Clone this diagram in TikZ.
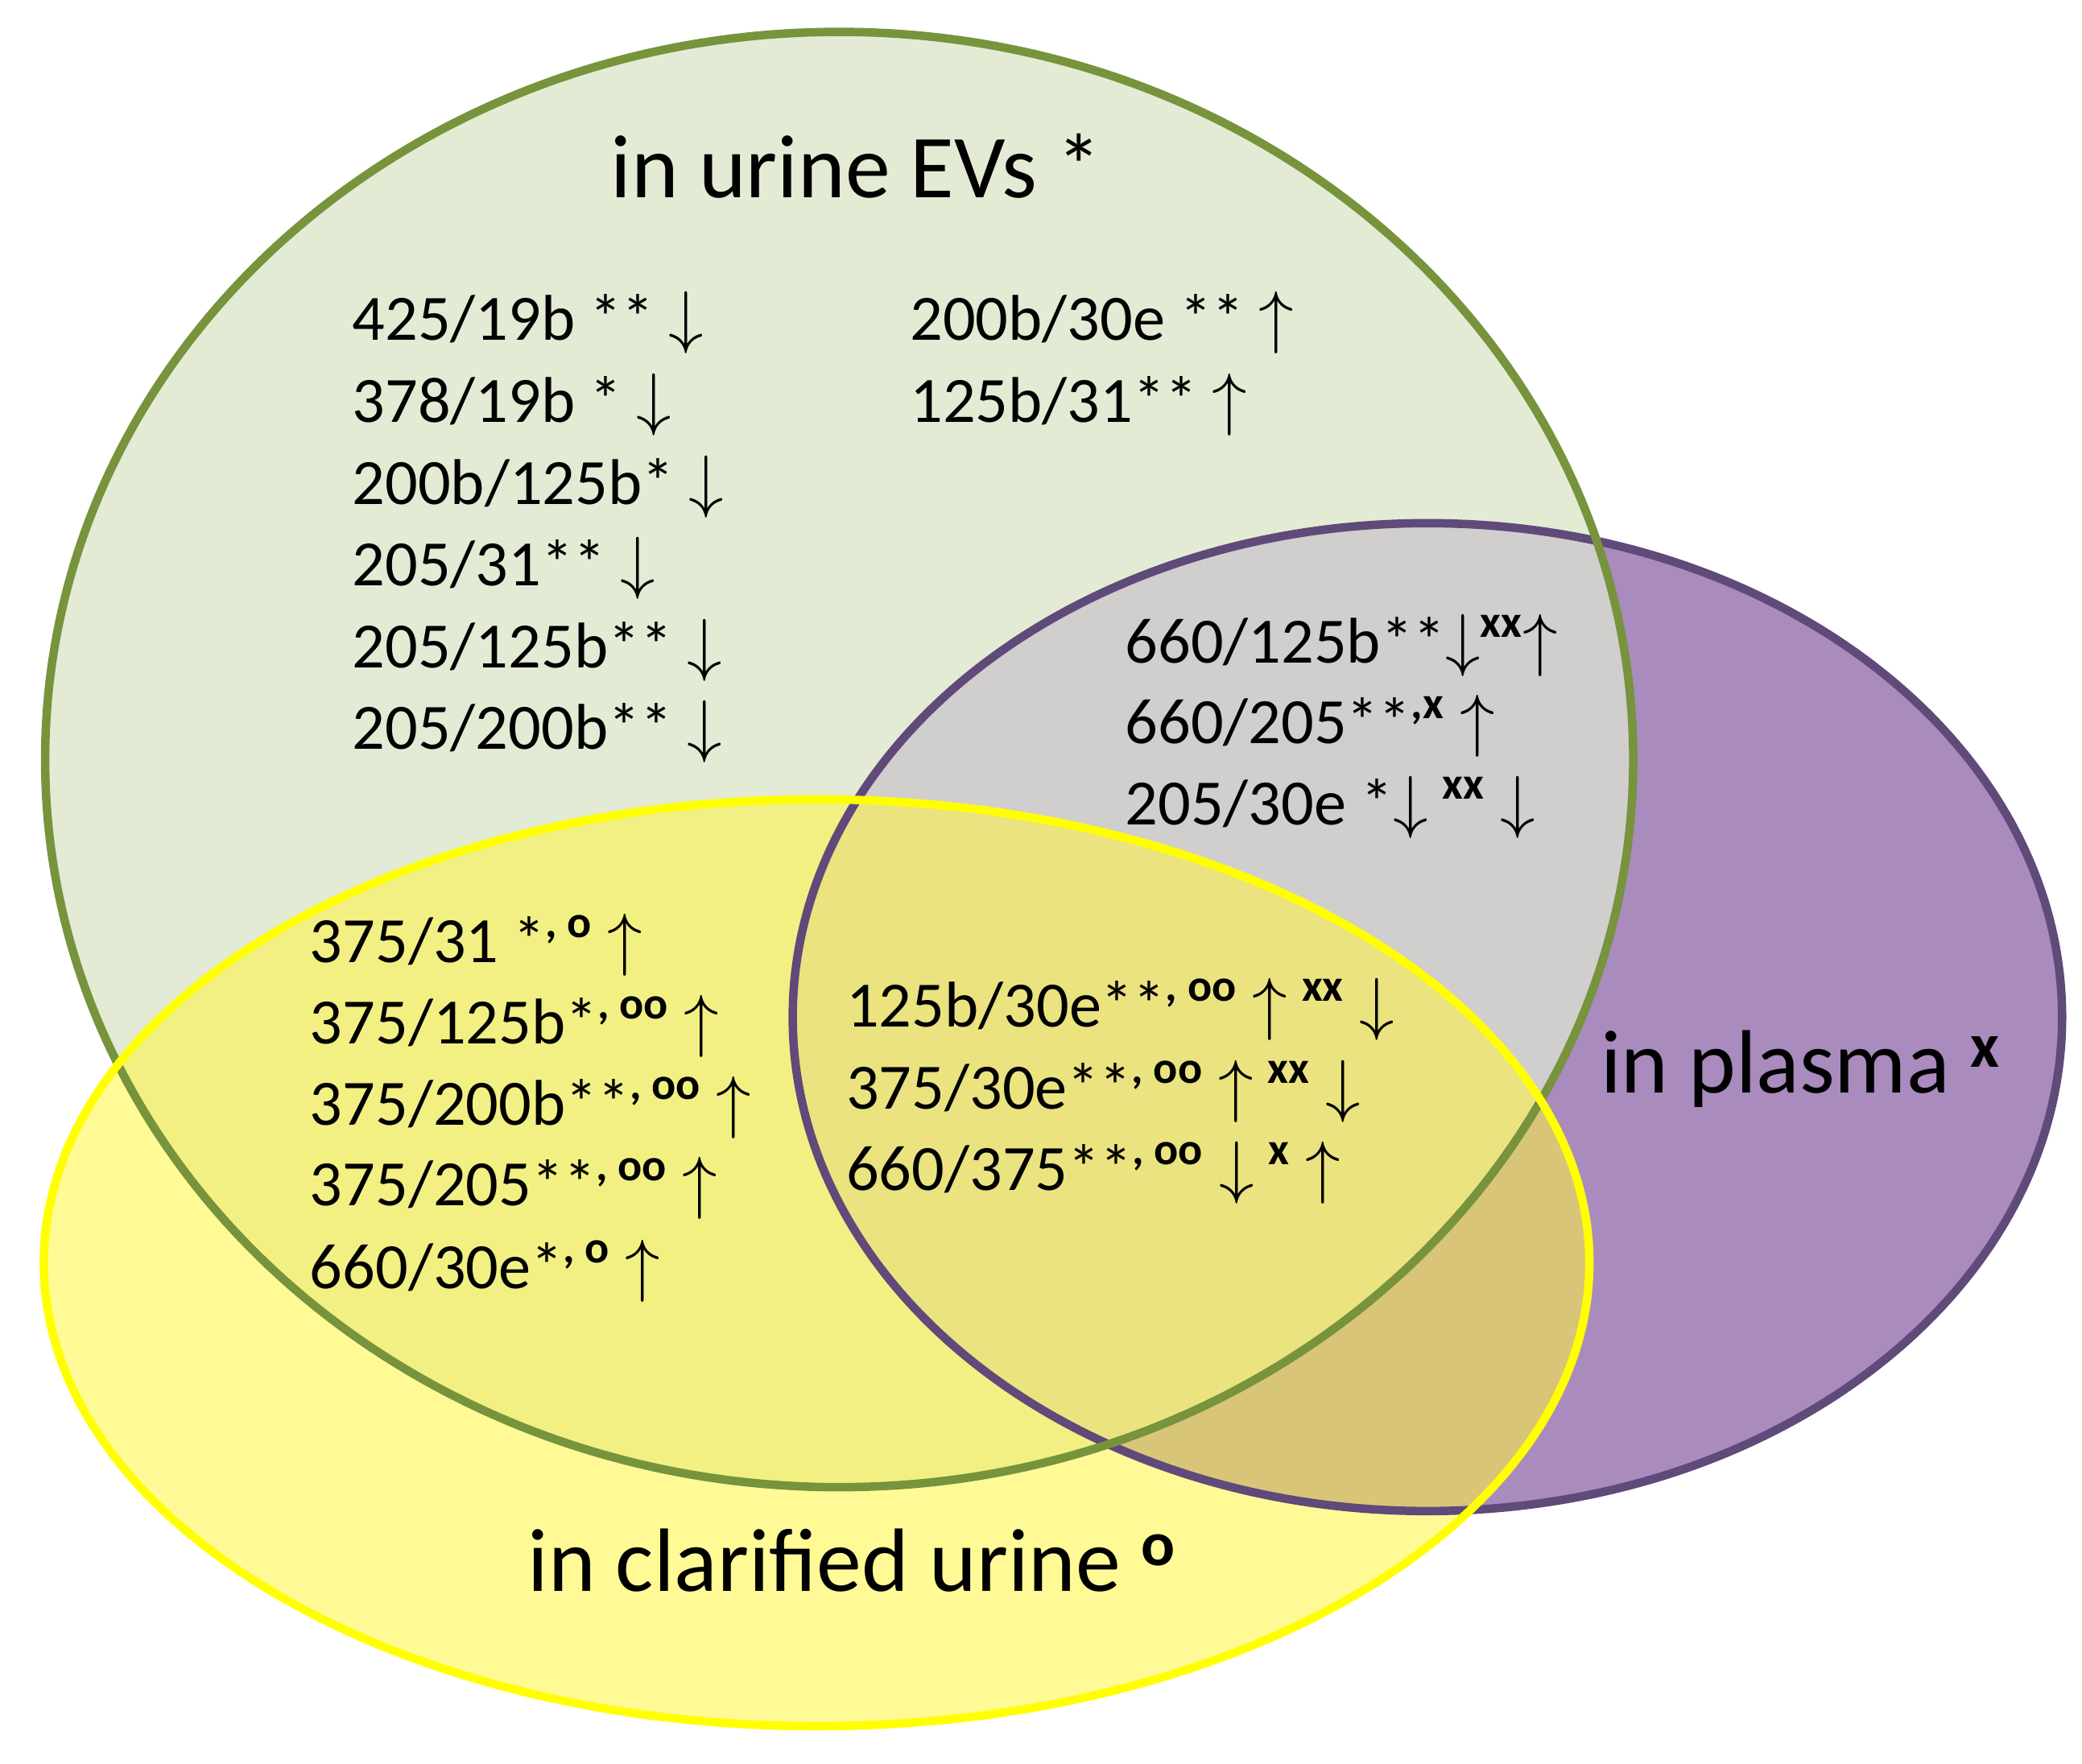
\documentclass[tikz,border=0pt]{standalone}
\usepackage{fontspec}
\setmainfont{Carlito}
\begin{document}
\begin{tikzpicture}[x=0.0166cm,y=-0.0166cm,
 lab/.style={anchor=west,font=\fontsize{23}{26}\selectfont,inner sep=0},
 ttl/.style={font=\fontsize{32}{36}\selectfont,inner sep=0}]
\newcommand{\su}[1]{\textsuperscript{\bfseries #1}}
\newcommand{\ua}{$\uparrow$}
\newcommand{\da}{$\downarrow$}
\useasboundingbox (0,0) rectangle (1568,1328);
\definecolor{gf}{HTML}{E3EBD5}\definecolor{gb}{HTML}{77933C}
\definecolor{pf}{HTML}{A98BBE}\definecolor{pb}{HTML}{5F4A7A}
\definecolor{yb}{HTML}{FFFF00}
\fill[gf] (632,572) ellipse [x radius=598, y radius=548];
\fill[pf] (1075,766) ellipse [x radius=478, y radius=372];
\fill[gf,opacity=0.7] (632,572) ellipse [x radius=598, y radius=548];
\fill[yellow!75!white,opacity=0.55] (615,951) ellipse [x radius=582, y radius=349];
\draw[pb,line width=3pt] (1075,766) ellipse [x radius=478, y radius=372];
\draw[gb,line width=3pt] (632,572) ellipse [x radius=598, y radius=548];
\draw[yb,line width=3pt] (615,951) ellipse [x radius=582, y radius=349];
\node[ttl] (t1) at (645,125) {in urine EVs *};
\node[ttl,anchor=west] (t2) at (1205,805) {in plasma \su{x}};
\node[ttl,anchor=west] (t3) at (397,1175) {in clarified urine \su{o}};
\node[lab] (a1) at (265,243) {425/19b ** \da};
\node[lab] (a2) at (265,305) {378/19b * \da};
\node[lab] (a3) at (265,367) {200b/125b* \da};
\node[lab] (a4) at (265,428) {205/31** \da};
\node[lab] (a5) at (265,490) {205/125b** \da};
\node[lab] (a6) at (265,551) {205/200b** \da};
\node[lab] (b1) at (685,243) {200b/30e ** \ua};
\node[lab] (b2) at (685,305) {125b/31** \ua};
\node[lab] (c1) at (847,486) {660/125b**\da\su{xx}\ua};
\node[lab] (c2) at (847,547) {660/205**\su{,x} \ua};
\node[lab] (c3) at (847,608) {205/30e *\da\ \su{xx} \da};
\node[lab] (d1) at (233,712) {375/31 *\su{, o} \ua};
\node[lab] (d2) at (233,773) {375/125b*\su{, oo} \ua};
\node[lab] (d3) at (233,834) {375/200b**\su{, oo} \ua};
\node[lab] (d4) at (233,895) {375/205**\su{, oo} \ua};
\node[lab] (d5) at (233,957) {660/30e*\su{, o} \ua};
\node[lab] (e1) at (637,760) {125b/30e**\su{, oo} \ua\ \su{xx} \da};
\node[lab] (e2) at (637,822) {375/30e**\su{, oo} \ua\ \su{xx} \da};
\node[lab] (e3) at (637,883) {660/375**\su{, oo} \da\ \su{x} \ua};
\end{tikzpicture}
\end{document}
